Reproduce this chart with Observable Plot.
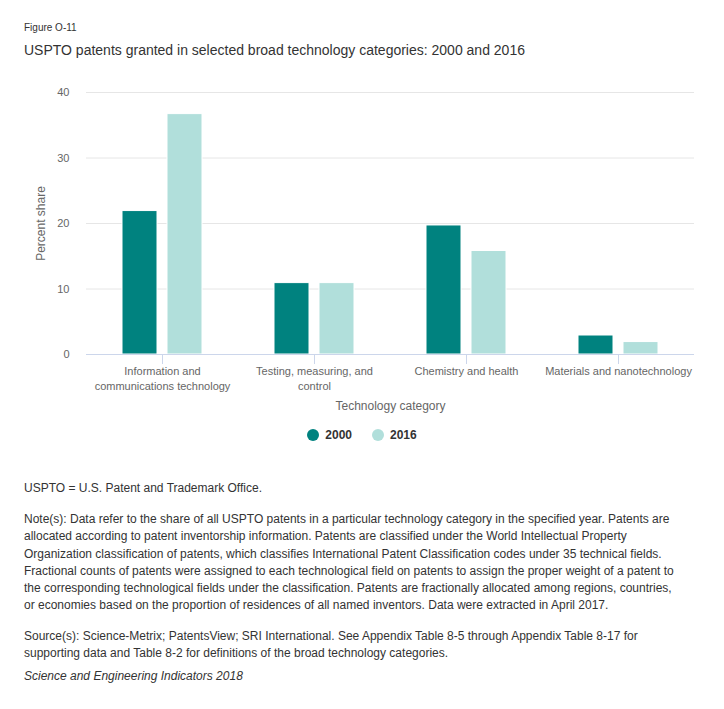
<!DOCTYPE html>
<html>
<head>
<meta charset="utf-8">
<script src="https://cdn.jsdelivr.net/npm/d3@7"></script>
<script src="https://cdn.jsdelivr.net/npm/@observablehq/plot@0.6"></script>
<style>
  body { margin: 0; background: #fff; font-family: "Liberation Sans", Arial, sans-serif; color: #333; }
  #wrap { position: relative; width: 724px; height: 709px; }
  .abs { position: absolute; left: 24px; white-space: nowrap; }
  #fig { top: 21px; font-size: 10px; line-height: 14px; color: #333; }
  #title { top: 41px; font-size: 14px; line-height: 18px; color: #333; }
  #chart { position: absolute; left: 0; top: 80px; }
  #legend { position: absolute; top: 428px; left: 0; width: 724px; display: flex; justify-content: center; gap: 20px; font-size: 12px; font-weight: bold; color: #333; }
  #legend .item { display: flex; align-items: center; gap: 6px; }
  #legend .dot { width: 12px; height: 12px; border-radius: 50%; display: inline-block; }
  .note { font-size: 12px; line-height: 17.3px; color: #333; }
</style>
</head>
<body>
<div id="wrap">
  <div id="fig" class="abs">Figure O-11</div>
  <div id="title" class="abs">USPTO patents granted in selected broad technology categories: 2000 and 2016</div>
  <div id="chart"></div>
  <div id="legend"></div>
  <div class="abs note" style="top:480px">USPTO = U.S. Patent and Trademark Office.</div>
  <div class="abs note" style="top:511px">Note(s): Data refer to the share of all USPTO patents in a particular technology category in the specified year. Patents are<br>allocated according to patent inventorship information. Patents are classified under the World Intellectual Property<br>Organization classification of patents, which classifies International Patent Classification codes under 35 technical fields.<br>Fractional counts of patents were assigned to each technological field on patents to assign the proper weight of a patent to<br>the corresponding technological fields under the classification. Patents are fractionally allocated among regions, countries,<br>or economies based on the proportion of residences of all named inventors. Data were extracted in April 2017.</div>
  <div class="abs note" style="top:628px">Source(s): Science-Metrix; PatentsView; SRI International. See Appendix Table 8-5 through Appendix Table 8-17 for<br>supporting data and Table 8-2 for definitions of the broad technology categories.</div>
  <div class="abs note" style="top:668px; font-style: italic">Science and Engineering Indicators 2018</div>
</div>
<script>
const categories = [
  "Information and communications technology",
  "Testing, measuring, and control",
  "Chemistry and health",
  "Materials and nanotechnology"
];
const tickLabels = [
  "Information and\ncommunications technology",
  "Testing, measuring, and\ncontrol",
  "Chemistry and health",
  "Materials and nanotechnology"
];
const years = ["2000", "2016"];
const values2000 = [21.9, 10.9, 19.7, 2.9];
const values2016 = [36.7, 10.9, 15.8, 1.9];
const yTicks = [0, 10, 20, 30, 40];
const colors = ["#00827f", "#b1dfdb"];

const data = [];
categories.forEach((c, i) => {
  data.push({category: c, year: years[0], value: values2000[i]});
  data.push({category: c, year: years[1], value: values2016[i]});
});
const labelOf = new Map(categories.map((c, i) => [c, tickLabels[i]]));

const chart = Plot.plot({
  width: 724,
  height: 340,
  marginTop: 12,
  marginBottom: 66,
  marginLeft: 85,
  marginRight: 30,
  style: {fontFamily: "'Liberation Sans', Arial, sans-serif", fontSize: "11px", color: "#666", background: "#fff"},
  fx: {domain: categories, padding: 0},
  x: {domain: years, paddingInner: 0.217, paddingOuter: 0.766, axis: null},
  y: {domain: [0, 40]},
  color: {domain: years, range: colors},
  marks: [
    Plot.gridY(yTicks, {stroke: "#e6e6e6", strokeOpacity: 1}),
    Plot.barY(data, {fx: "category", x: "year", y: "value", fill: "year", stroke: "#fff", strokeWidth: 1}),
    Plot.ruleY([0], {stroke: "#ccd6eb", strokeWidth: 1}),
    Plot.axisY(yTicks, {tickSize: 0, tickPadding: 17, label: null, fontSize: 11}),
    Plot.axisY(yTicks, {tickSize: 0, tickFormat: () => "", label: "Percent share", labelAnchor: "center", labelOffset: 50, labelArrow: "none", fontSize: 12}),
    Plot.axisFx({anchor: "bottom", tickSize: 10, stroke: "#ccd6eb", strokeOpacity: 1, strokeWidth: 1, tickPadding: 0, lineHeight: 1.35, tickFormat: d => labelOf.get(d), label: null}),
    Plot.axisFx({anchor: "bottom", tickSize: 0, tickFormat: () => "", label: "Technology category", labelAnchor: "center", labelOffset: 55, labelArrow: "none", fontSize: 12})
  ]
});
document.getElementById("chart").appendChild(chart);

const legend = document.getElementById("legend");
years.forEach((y, i) => {
  const item = document.createElement("div");
  item.className = "item";
  const dot = document.createElement("span");
  dot.className = "dot";
  dot.style.background = colors[i];
  const t = document.createElement("span");
  t.textContent = y;
  item.appendChild(dot);
  item.appendChild(t);
  legend.appendChild(item);
});
</script>
</body>
</html>
